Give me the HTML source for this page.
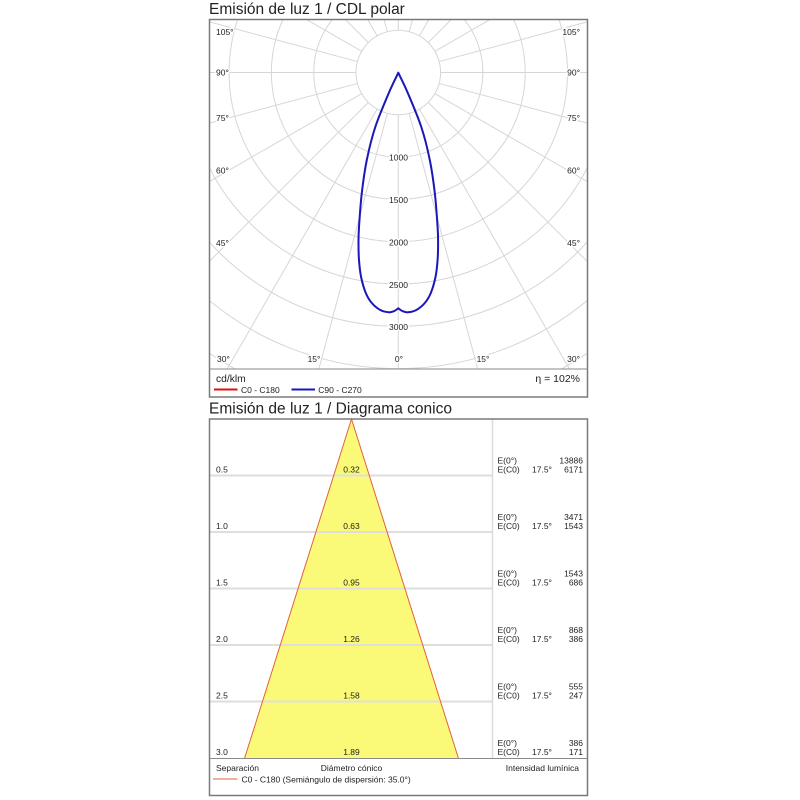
<!DOCTYPE html>
<html><head><meta charset="utf-8"><style>
html,body{margin:0;padding:0;background:#fff;}
svg{display:block;}
text{font-family:"Liberation Sans",Arial,sans-serif;fill:#222;}
</style></head><body>
<svg width="800" height="800" viewBox="0 0 800 800" xmlns="http://www.w3.org/2000/svg">
<rect x="0" y="0" width="800" height="800" fill="#fff"/>
<defs>
<clipPath id="pc"><rect x="209.5" y="19.5" width="378" height="349.5"/></clipPath>
</defs>

<text x="209" y="14" font-size="15.5">Emisión de luz 1 / CDL polar</text>

<g clip-path="url(#pc)" stroke="#d6d6d6" stroke-width="1" fill="none">
<circle cx="398.3" cy="72.5" r="42.3"/>
<circle cx="398.3" cy="72.5" r="84.6"/>
<circle cx="398.3" cy="72.5" r="126.9"/>
<circle cx="398.3" cy="72.5" r="169.2"/>
<circle cx="398.3" cy="72.5" r="211.5"/>
<circle cx="398.3" cy="72.5" r="253.8"/>
<circle cx="398.3" cy="72.5" r="296.1"/>
<circle cx="398.3" cy="72.5" r="338.4"/>
<circle cx="398.3" cy="72.5" r="380.7"/>
<g transform="translate(398.3,72.5)">
<line x1="0" y1="42.3" x2="0" y2="420"/>
<line x1="0" y1="42.3" x2="0" y2="420" transform="rotate(15)"/>
<line x1="0" y1="42.3" x2="0" y2="420" transform="rotate(30)"/>
<line x1="0" y1="42.3" x2="0" y2="420" transform="rotate(45)"/>
<line x1="0" y1="42.3" x2="0" y2="420" transform="rotate(60)"/>
<line x1="0" y1="42.3" x2="0" y2="420" transform="rotate(75)"/>
<line x1="0" y1="42.3" x2="0" y2="420" transform="rotate(90)"/>
<line x1="0" y1="42.3" x2="0" y2="420" transform="rotate(105)"/>
<line x1="0" y1="42.3" x2="0" y2="420" transform="rotate(120)"/>
<line x1="0" y1="42.3" x2="0" y2="420" transform="rotate(135)"/>
<line x1="0" y1="42.3" x2="0" y2="420" transform="rotate(150)"/>
<line x1="0" y1="42.3" x2="0" y2="420" transform="rotate(165)"/>
<line x1="0" y1="42.3" x2="0" y2="420" transform="rotate(180)"/>
<line x1="0" y1="42.3" x2="0" y2="420" transform="rotate(195)"/>
<line x1="0" y1="42.3" x2="0" y2="420" transform="rotate(210)"/>
<line x1="0" y1="42.3" x2="0" y2="420" transform="rotate(225)"/>
<line x1="0" y1="42.3" x2="0" y2="420" transform="rotate(240)"/>
<line x1="0" y1="42.3" x2="0" y2="420" transform="rotate(255)"/>
<line x1="0" y1="42.3" x2="0" y2="420" transform="rotate(270)"/>
<line x1="0" y1="42.3" x2="0" y2="420" transform="rotate(285)"/>
<line x1="0" y1="42.3" x2="0" y2="420" transform="rotate(300)"/>
<line x1="0" y1="42.3" x2="0" y2="420" transform="rotate(315)"/>
<line x1="0" y1="42.3" x2="0" y2="420" transform="rotate(330)"/>
<line x1="0" y1="42.3" x2="0" y2="420" transform="rotate(345)"/>
</g>
</g>

<g font-size="8.5" stroke="#fff" stroke-width="3" paint-order="stroke" dominant-baseline="central">
<text x="216" y="32">105°</text>
<text x="216" y="72.3">90°</text>
<text x="216" y="118">75°</text>
<text x="216" y="170.7">60°</text>
<text x="216" y="243">45°</text>
<text x="217" y="359">30°</text>
<text x="580" y="32" text-anchor="end">105°</text>
<text x="580" y="72.3" text-anchor="end">90°</text>
<text x="580" y="118" text-anchor="end">75°</text>
<text x="580" y="170.7" text-anchor="end">60°</text>
<text x="580" y="243" text-anchor="end">45°</text>
<text x="580" y="359" text-anchor="end">30°</text>
<text x="314" y="359" text-anchor="middle">15°</text>
<text x="399" y="359" text-anchor="middle">0°</text>
<text x="483" y="359" text-anchor="middle">15°</text>
<text x="398.5" y="157.5" text-anchor="middle">1000</text>
<text x="398.5" y="200" text-anchor="middle">1500</text>
<text x="398.5" y="242.5" text-anchor="middle">2000</text>
<text x="398.5" y="285" text-anchor="middle">2500</text>
<text x="398.5" y="327" text-anchor="middle">3000</text>
</g>

<path id="curve" fill="none" stroke-width="2" stroke-linejoin="round" d="M398.3,72.7 C401.47,79.47 403.97,83.95 407.8,93 C411.63,102.05 417.63,115.83 421.3,127 C424.97,138.17 427.55,149 429.8,160 C432.05,171 433.5,181.83 434.8,193 C436.1,204.17 437.05,218.67 437.6,227 C438.15,235.33 438.1,237.5 438.1,243 C438.1,248.5 438.03,254.33 437.6,260 C437.17,265.67 436.63,271.5 435.5,277 C434.37,282.5 432.58,288.67 430.8,293 C429.02,297.33 427.22,300.17 424.8,303 C422.38,305.83 419.13,308.45 416.3,310 C413.47,311.55 410.13,312.13 407.8,312.3 C405.47,312.47 403.88,311.67 402.3,311 C400.72,310.33 399.63,309.2 398.3,308.3 C396.97,309.2 395.88,310.33 394.3,311 C392.72,311.67 391.13,312.47 388.8,312.3 C386.47,312.13 383.13,311.55 380.3,310 C377.47,308.45 374.22,305.83 371.8,303 C369.38,300.17 367.58,297.33 365.8,293 C364.02,288.67 362.23,282.5 361.1,277 C359.97,271.5 359.43,265.67 359,260 C358.57,254.33 358.5,248.5 358.5,243 C358.5,237.5 358.45,235.33 359,227 C359.55,218.67 360.5,204.17 361.8,193 C363.1,181.83 364.55,171 366.8,160 C369.05,149 371.63,138.17 375.3,127 C378.97,115.83 384.97,102.05 388.8,93 C392.63,83.95 395.13,79.47 398.3,72.7 Z" stroke="#1a18b8"/>

<rect x="209.5" y="19.5" width="378" height="377.5" fill="none" stroke="#7a7a7a" stroke-width="1.5"/>
<line x1="209.5" y1="369" x2="587.5" y2="369" stroke="#8a8a8a" stroke-width="1"/>

<text x="216" y="379.5" font-size="10.3" dominant-baseline="central">cd/klm</text>
<text x="580" y="379" font-size="10.5" text-anchor="end" dominant-baseline="central">η = 102%</text>
<line x1="214" y1="389.5" x2="237.5" y2="389.5" stroke="#e01010" stroke-width="2"/>
<text x="241" y="390" font-size="8.5" dominant-baseline="central">C0 - C180</text>
<line x1="291.5" y1="389.5" x2="315" y2="389.5" stroke="#1a18b8" stroke-width="2"/>
<text x="318.3" y="390" font-size="8.5" dominant-baseline="central">C90 - C270</text>

<text x="209" y="413.5" font-size="15.5">Emisión de luz 1 / Diagrama conico</text>

<polygon points="351.5,419 244.5,758.5 458.5,758.5" fill="#fafa78"/>
<g stroke="#dedede" stroke-width="2">
<line x1="209.5" y1="475.5" x2="492.5" y2="475.5"/>
<line x1="209.5" y1="532" x2="492.5" y2="532"/>
<line x1="209.5" y1="588.5" x2="492.5" y2="588.5"/>
<line x1="209.5" y1="645" x2="492.5" y2="645"/>
<line x1="209.5" y1="701.5" x2="492.5" y2="701.5"/>
</g>
<polyline points="244.5,758.5 351.5,419 458.5,758.5" fill="none" stroke="#e2603a" stroke-width="1"/>
<line x1="492.5" y1="419" x2="492.5" y2="758.5" stroke="#dcdcdc" stroke-width="1.5"/>

<g font-size="8.5" dominant-baseline="central">
<text x="216" y="469.5">0.5</text>
<text x="216" y="526">1.0</text>
<text x="216" y="582.5">1.5</text>
<text x="216" y="639">2.0</text>
<text x="216" y="695.5">2.5</text>
<text x="216" y="752">3.0</text>
<g text-anchor="middle">
<text x="351.5" y="469.5">0.32</text>
<text x="351.5" y="526">0.63</text>
<text x="351.5" y="582.5">0.95</text>
<text x="351.5" y="639">1.26</text>
<text x="351.5" y="695.5">1.58</text>
<text x="351.5" y="752">1.89</text>
</g>
<text x="497.5" y="460.5">E(0°)</text><text x="497.5" y="469.5">E(C0)</text><text x="532" y="469.5">17.5°</text>
<text x="497.5" y="517">E(0°)</text><text x="497.5" y="526">E(C0)</text><text x="532" y="526">17.5°</text>
<text x="497.5" y="573.5">E(0°)</text><text x="497.5" y="582.5">E(C0)</text><text x="532" y="582.5">17.5°</text>
<text x="497.5" y="630">E(0°)</text><text x="497.5" y="639">E(C0)</text><text x="532" y="639">17.5°</text>
<text x="497.5" y="686.5">E(0°)</text><text x="497.5" y="695.5">E(C0)</text><text x="532" y="695.5">17.5°</text>
<text x="497.5" y="743">E(0°)</text><text x="497.5" y="752">E(C0)</text><text x="532" y="752">17.5°</text>
<g text-anchor="end">
<text x="583" y="460.5">13886</text><text x="583" y="469.5">6171</text>
<text x="583" y="517">3471</text><text x="583" y="526">1543</text>
<text x="583" y="573.5">1543</text><text x="583" y="582.5">686</text>
<text x="583" y="630">868</text><text x="583" y="639">386</text>
<text x="583" y="686.5">555</text><text x="583" y="695.5">247</text>
<text x="583" y="743">386</text><text x="583" y="752">171</text>
</g>
<text x="216" y="768">Separación</text>
<text x="351.5" y="768" text-anchor="middle">Diámetro cónico</text>
<text x="579" y="768" text-anchor="end">Intensidad lumínica</text>
<text x="241.5" y="779.5">C0 - C180 (Semiángulo de dispersión: 35.0°)</text>
</g>
<line x1="213" y1="779" x2="237.5" y2="779" stroke="#e2603a" stroke-width="1"/>

<rect x="209.5" y="419" width="378" height="376.5" fill="none" stroke="#7a7a7a" stroke-width="1.5"/>
<line x1="209.5" y1="758.5" x2="587.5" y2="758.5" stroke="#8a8a8a" stroke-width="1"/>
</svg>
</body></html>
